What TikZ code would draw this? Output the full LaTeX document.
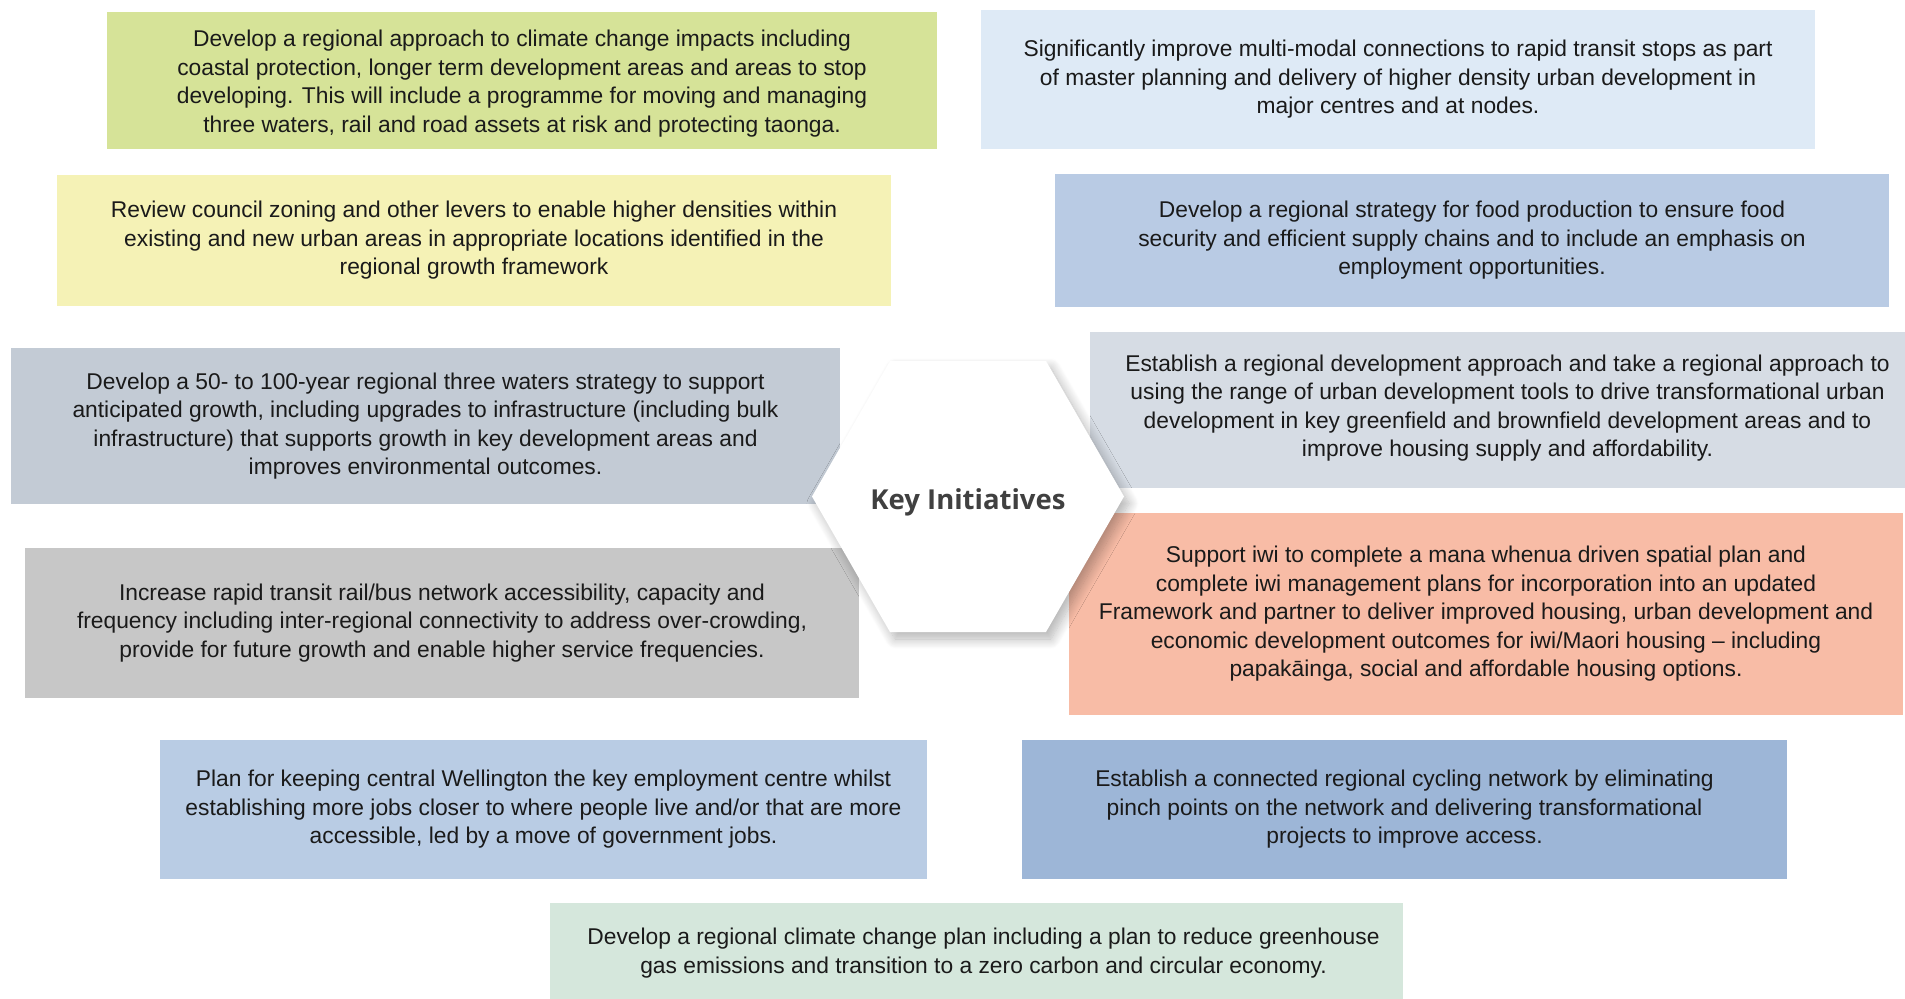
\documentclass[tikz,border=0pt]{standalone}
\usepackage{fontspec}
\setmainfont{Liberation Sans}
\newfontfamily\hexfont{Open Sans}
\usetikzlibrary{shadows.blur}
\definecolor{cA}{HTML}{D6E398}
\definecolor{cB}{HTML}{DEEAF6}
\definecolor{cC}{HTML}{F5F2B6}
\definecolor{cD}{HTML}{B9CBE4}
\definecolor{cE}{HTML}{C3CBD5}
\definecolor{cF}{HTML}{D6DCE4}
\definecolor{cG}{HTML}{C7C7C7}
\definecolor{cH}{HTML}{F8BCA6}
\definecolor{cI}{HTML}{B9CCE4}
\definecolor{cJ}{HTML}{9DB6D7}
\definecolor{cK}{HTML}{D5E7DC}
\definecolor{txt}{HTML}{1A1A1A}
\definecolor{hextxt}{HTML}{404040}
\tikzset{
  initbox/.style={rectangle, inner sep=0pt, align=center, text=txt,
    font=\fontsize{22.8}{28.5}\selectfont},
  inittext/.style={inner sep=0pt, align=center, text=txt,
    font=\fontsize{22.8}{28.5}\selectfont},
}
\begin{document}
\begin{tikzpicture}[x=1pt,y=-1pt]
\useasboundingbox (0,0) rectangle (1905,998);
\clip (0,0) rectangle (1905,998);
\node[initbox, fill=cA, minimum width=830, minimum height=137] (a) at (522,80.5) {};
\node[inittext] (at) at ([yshift=-3pt]a.center)
 {Develop a regional approach to climate change impacts including\\coastal protection, longer term development areas and areas to stop\\developing. This will include a programme for moving and managing\\three waters, rail and road assets at risk and protecting taonga.};
\node[initbox, fill=cB, minimum width=834, minimum height=139] (b) at (1398,79.5)
 {Significantly improve multi-modal connections to rapid transit stops as part\\of master planning and delivery of higher density urban development in\\major centres and at nodes.};
\node[initbox, fill=cC, minimum width=834, minimum height=131] (c) at (474,240.5)
 {Review council zoning and other levers to enable higher densities within\\existing and new urban areas in appropriate locations identified in the\\regional growth framework};
\node[initbox, fill=cD, minimum width=834, minimum height=133] (d) at (1472,240.5)
 {Develop a regional strategy for food production to ensure food\\security and efficient supply chains and to include an emphasis on\\employment opportunities.};
\node[initbox, fill=cE, minimum width=829, minimum height=156] (e) at (425.5,426)
 {Develop a 50- to 100-year regional three waters strategy to support\\anticipated growth, including upgrades to infrastructure (including bulk\\infrastructure) that supports growth in key development areas and\\improves environmental outcomes.};
\node[initbox, fill=cF, minimum width=835, minimum height=156] (f) at (1507.5,410) {};
\node[inittext] (ft) at ([yshift=2pt]f.center)
 {Establish a regional development approach and take a regional approach to\\using the range of urban development tools to drive transformational urban\\development in key greenfield and brownfield development areas and to\\improve housing supply and affordability.};
\node[initbox, fill=cG, minimum width=834, minimum height=150] (g) at (442,623)
 {Increase rapid transit rail/bus network accessibility, capacity and\\frequency including inter-regional connectivity to address over-crowding,\\provide for future growth and enable higher service frequencies.};
\node[initbox, fill=cH, minimum width=834, minimum height=202] (h) at (1486,614)
 {Support iwi to complete a mana whenua driven spatial plan and\\complete iwi management plans for incorporation into an updated\\Framework and partner to deliver improved housing, urban development and\\economic development outcomes for iwi/Maori housing -- including\\papakāinga, social and affordable housing options.};
\node[initbox, fill=cI, minimum width=767, minimum height=139] (i) at (543.5,809.5)
 {Plan for keeping central Wellington the key employment centre whilst\\establishing more jobs closer to where people live and/or that are more\\accessible, led by a move of government jobs.};
\node[initbox, fill=cJ, minimum width=765, minimum height=139] (j) at (1404.5,809.5)
 {Establish a connected regional cycling network by eliminating\\pinch points on the network and delivering transformational\\projects to improve access.};
\node[initbox, fill=cK, minimum width=853, minimum height=100] (k) at (976.5,953) {};
\node[inittext] (kt) at ([xshift=7pt]k.center)
 {Develop a regional climate change plan including a plan to reduce greenhouse\\gas emissions and transition to a zero carbon and circular economy.};
% hexagon
\coordinate (hc) at (968,502);
\path[fill=white, blur shadow={shadow xshift=5pt, shadow yshift=-7pt, shadow blur radius=10pt, shadow blur steps=14, shadow opacity=30}]
  (812,496.5) -- (890,361) -- (1046,361) -- (1124,496.5) -- (1046,632) -- (890,632) -- cycle;
\node[text=hextxt, font=\hexfont\bfseries\fontsize{27.5}{32}\selectfont] (hex) at (hc) {Key Initiatives};
\end{tikzpicture}
\end{document}
